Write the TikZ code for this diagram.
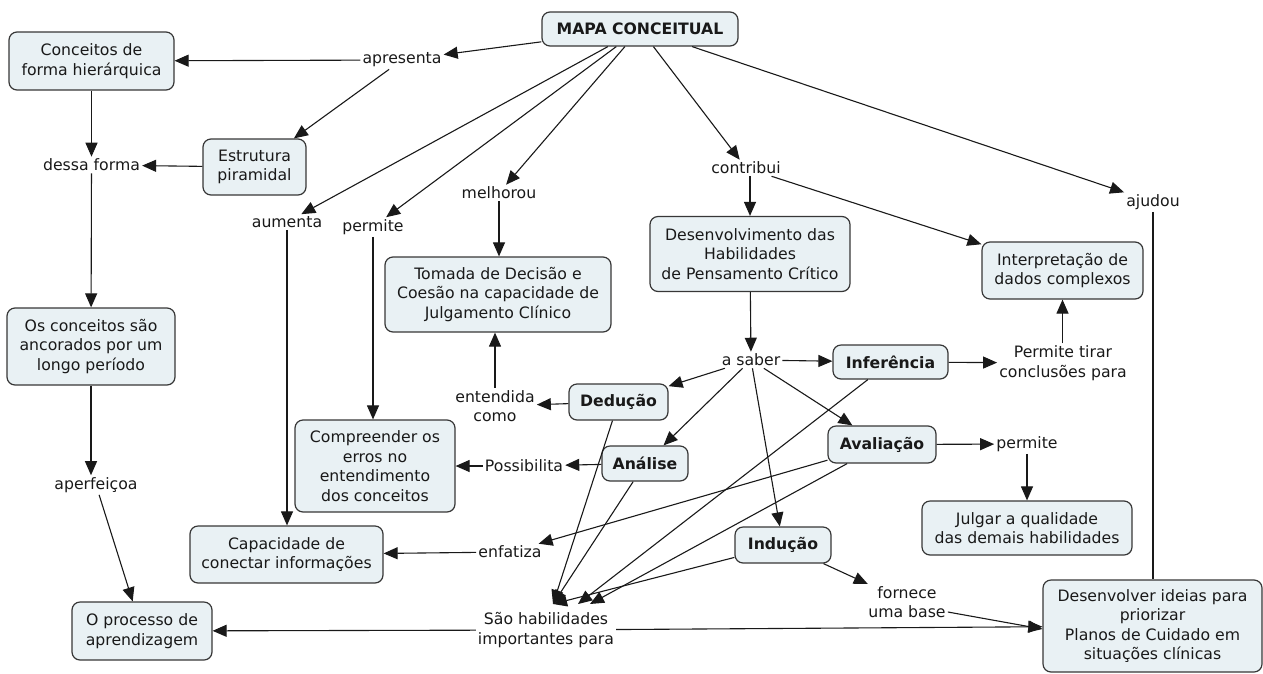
\documentclass[tikz,border=0pt]{standalone}
\usepackage{fontspec}
\setmainfont{DejaVu Sans}
\usetikzlibrary{arrows.meta,calc}
\definecolor{boxfill}{RGB}{233,241,244}
\definecolor{boxline}{RGB}{55,55,55}
\definecolor{ink}{RGB}{25,25,25}
\begin{document}
\begin{tikzpicture}[x=1pt,y=-1pt,
  every node/.style={font=\fontsize{15.7}{19.5}\selectfont, text=ink},
  box/.style={draw=boxline, fill=boxfill, line width=1.2pt, rounded corners=8pt, align=center, inner sep=0pt},
  lbl/.style={align=center, inner sep=2pt},
  con/.style={draw=ink, line width=1.1pt, -{Triangle[length=14pt,width=12pt]}},
  plain/.style={draw=ink, line width=1.1pt},
  bf/.style={font=\fontsize{15.7}{19.5}\selectfont\bfseries}
]
\useasboundingbox (0,0) rectangle (1263,673);

% concepts
\node[box,bf,minimum width=196,minimum height=34] (mapa) at (640,29) {MAPA CONCEITUAL};
\node[box,minimum width=165,minimum height=58] (conc) at (91.5,61) {Conceitos de\\forma hierárquica};
\node[box,minimum width=103,minimum height=56] (estr) at (254.5,167) {Estrutura\\piramidal};
\node[box,minimum width=168,minimum height=77] (ancor) at (91,346.5) {Os conceitos são\\ancorados por um\\longo período};
\node[box,minimum width=140,minimum height=58] (proc) at (142,631) {O processo de\\aprendizagem};
\node[box,minimum width=226,minimum height=75] (tomada) at (498,294.5) {Tomada de Decisão e\\Coesão na capacidade de\\Julgamento Clínico};
\node[box,bf,minimum width=99,minimum height=36] (ded) at (618.5,402) {Dedução};
\node[box,minimum width=160,minimum height=92] (compr) at (375,466) {Compreender os\\erros no\\entendimento\\dos conceitos};
\node[box,bf,minimum width=86,minimum height=35] (anal) at (645,463.5) {Análise};
\node[box,minimum width=193,minimum height=57] (capac) at (286.5,554.5) {Capacidade de\\conectar informações};
\node[box,bf,minimum width=115,minimum height=34] (infer) at (890.5,362) {Inferência};
\node[box,minimum width=161,minimum height=57] (interp) at (1062.5,270.5) {Interpretação de\\dados complexos};
\node[box,minimum width=200,minimum height=75] (desenv) at (750,254) {Desenvolvimento das\\Habilidades\\de Pensamento Crítico};
\node[box,bf,minimum width=108,minimum height=37] (aval) at (882,444.5) {Avaliação};
\node[box,minimum width=210,minimum height=54] (julg) at (1027,528) {Julgar a qualidade\\das demais habilidades};
\node[box,bf,minimum width=96,minimum height=36] (indu) at (783,545) {Indução};
\node[box,minimum width=219,minimum height=92] (desid) at (1152.5,626) {Desenvolver ideias para\\priorizar\\Planos de Cuidado em\\situações clínicas};

% linking phrases
\node[lbl] (apres) at (402,60) {apresenta};
\node[lbl] (dessa) at (91.5,165) {dessa forma};
\node[lbl] (aperf) at (96,485) {aperfeiçoa};
\node[lbl] (aum) at (287,222) {aumenta};
\node[lbl] (perm1) at (373,227) {permite};
\node[lbl] (melh) at (499,193) {melhorou};
\node[lbl] (entend) at (495,406) {entendida\\como};
\node[lbl] (possib) at (524,466) {Possibilita};
\node[lbl] (enfat) at (510,552) {enfatiza};
\node[lbl] (sao) at (546,630) {São habilidades\\importantes para};
\node[lbl] (asaber) at (751,360) {a saber};
\node[lbl] (permtir) at (1063,363) {Permite tirar\\conclusões para};
\node[lbl] (contr) at (746,168) {contribui};
\node[lbl] (ajud) at (1153,202) {ajudou};
\node[lbl] (perm2) at (1027,444) {permite};
\node[lbl] (forn) at (907,602) {fornece\\uma base};

\coordinate (s1) at (553,604);
\coordinate (s2) at (578,604);
\coordinate (s3) at (590,604);

% connectors
\draw[con] (mapa) -- (apres);
\draw[con] (apres) -- (conc);
\draw[con] (apres) -- (estr);
\draw[con] (estr) -- (dessa);
\draw[con] (conc) -- (dessa);
\draw[con] (dessa) -- (ancor);
\draw[con] (ancor.south) -- (ancor.south |- aperf.north);
\draw[con] (aperf) -- (proc);
\draw[con] (mapa) -- (aum);
\draw[con] (mapa) -- (perm1);
\draw[con] (mapa) -- (melh);
\draw[con] (aum.south) -- (aum.south |- capac.north);
\draw[con] (perm1.south) -- (perm1.south |- compr.north);
\draw[con] (melh.south) -- (melh.south |- tomada.north);
\draw[con] (entend.north) -- (entend.north |- tomada.south);
\draw[con] (ded) -- (entend);
\draw[con] (anal) -- (possib);
\draw[con] (possib) -- (compr);
\draw[con] (enfat) -- (capac);
\draw[con] (aval) -- (enfat);
\draw[con] (desenv) -- (asaber);
\draw[con] (asaber) -- (infer);
\draw[con] (asaber) -- (ded);
\draw[con] (asaber) -- (anal);
\draw[con] (asaber) -- (indu);
\draw[con] (asaber) -- (aval);
\draw[con] (infer) -- (permtir);
\draw[con] (permtir.north -| interp.south) -- (interp.south);
\draw[con] (mapa) -- (contr);
\draw[con] (contr.south -| desenv.north) -- (desenv.north);
\draw[con] (contr) -- (interp);
\draw[con] (mapa) -- (ajud);
\draw[plain] (ajud.south) -- (ajud.south |- desid.north);
\draw[con] (aval) -- (perm2);
\draw[con] (perm2) -- (julg);
\draw[con] (indu) -- (forn);
\draw[con] ($(forn.east)+(0,10)$) -- ($(desid.west)+(0,3)$);
\draw[con] (sao) -- (proc);
\draw[con] (sao) -- (desid);
\draw[con] (ded) -- (s1);
\draw[con] (anal) -- (s1);
\draw[con] (indu) -- (s1);
\draw[con] (infer) -- (s2);
\draw[con] (aval) -- (s3);
\end{tikzpicture}
\end{document}
